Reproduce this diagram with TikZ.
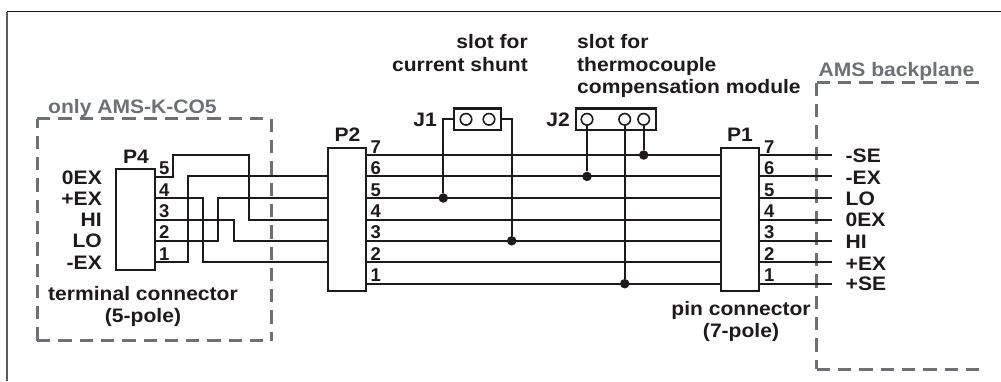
\documentclass[tikz,border=0pt]{standalone}
\usepackage{fontspec}
\setmainfont{Liberation Sans}[FakeStretch=1.08]
\newfontfamily\pinfont{Liberation Sans}
\usetikzlibrary{arrows}
\definecolor{dashgray}{HTML}{6D7175}
\definecolor{wireblack}{HTML}{1E1A1A}
\tikzset{
  wire/.style={draw=wireblack,line width=2pt},
  connbox/.style={draw=wireblack,line width=2.3pt,fill=white,inner sep=0pt},
  border/.style={dashgray,line width=3pt,dash pattern=on 13.3pt off 8pt},
  label/.style={font=\fontsize{19.5}{21.5}\selectfont\bfseries,text=wireblack,inner sep=0pt},
  graylabel/.style={font=\fontsize{19.5}{21.5}\selectfont\bfseries,text=dashgray,inner sep=0pt},
  pinno/.style={font=\pinfont\fontsize{18.5}{18.5}\selectfont\bfseries,text=wireblack,inner sep=0pt},
  solder/.style={circle,fill=wireblack,inner sep=0pt,minimum size=9.5pt},
  hole/.style={circle,draw=wireblack,line width=1.6pt,fill=white,inner sep=0pt,minimum size=11.5pt}
}
\begin{document}
\begin{tikzpicture}[x=1pt,y=-1pt]
   \useasboundingbox (0,0) rectangle (1001,381);
   % outer frame
   \coordinate (FL) at (6.5,381);
   \coordinate (FC) at (6.5,11.5);
   \coordinate (FR) at (1001,11.5);
   \draw [dashgray!80!black, line width=2pt] (FL) -- (FC);
   \draw [wireblack, line width=1.8pt] (FC) -- (FR);
   % dashed regions
   \coordinate (OA) at (37,118.7);
   \coordinate (OB) at (271,118.7);
   \coordinate (OC) at (271,340.7);
   \coordinate (OD) at (37,340.7);
   \draw [border] (OA) -- (OB);
   \draw [border] (OB) -- (OC);
   \draw [border] (OD) -- (OC);
   \draw [border] (OD) -- (OA);
   \coordinate (BA) at (816.7,82.7);
   \coordinate (BB) at (983,82.7);
   \coordinate (BC) at (816.7,369);
   \coordinate (BD) at (983,369);
   \draw [border] (BA) -- (BB);
   \draw [border] (BA) -- (BC);
   \draw [border] (BC) -- (BD);
   % pin positions
   \foreach \n/\y in {7/155,6/176.4,5/198,4/219.5,3/240.8,2/262.3,1/283.7} {
      \coordinate (P2L\n) at (328,\y);
      \coordinate (P2R\n) at (366,\y);
      \coordinate (P1L\n) at (721,\y);
      \coordinate (P1R\n) at (759,\y);
      \coordinate (OUT\n) at (831.7,\y);
      \node [pinno, anchor=base west] (P2N\n) at (370.5,\y-2) {\n};
      \node [pinno, anchor=base west] (P1N\n) at (764,\y-2) {\n};
      \draw [wire] (P2R\n) -- (P1L\n);
      \draw [wire] (P1R\n) -- (OUT\n);
   }
   \foreach \n/\y in {5/176.8,4/198,3/219.5,2/240.8,1/262.3} {
      \coordinate (P4R\n) at (155,\y);
      \node [pinno, anchor=base west] (P4N\n) at (159,\y-2) {\n};
   }
   % wires from P4 to P2
   \coordinate (W5a) at (172.7,154.7);
   \coordinate (W5b) at (248.7,154.7);
   \draw [wire] (P4R5) -| (W5a) -- (W5b) |- (P2L4);
   \coordinate (W1) at (188.3,262.3);
   \draw [wire] (P4R1) -- (W1) |- (P2L6);
   \coordinate (W4) at (203.3,198);
   \draw [wire] (P4R4) -- (W4) |- (P2L2);
   \coordinate (W2) at (218.3,240.8);
   \draw [wire] (P4R2) -- (W2) |- (P2L5);
   \coordinate (W3) at (233.7,219.5);
   \draw [wire] (P4R3) -- (W3) |- (P2L3);
   \node [connbox, minimum width=39pt, minimum height=101pt] (P4) at (135.5,219.5) {};
   \node [connbox, minimum width=38pt, minimum height=143.5pt] (P2) at (347,219.5) {};
   \node [connbox, minimum width=38pt, minimum height=143.5pt] (P1) at (740,219.5) {};
   \node [label, anchor=base] (P4T) at (136,163.5) {P4};
   \node [label, anchor=base] (P2T) at (347.5,141.5) {P2};
   \node [label, anchor=base] (P1T) at (740,141.5) {P1};
   % slots
   \node [connbox, minimum width=46.4pt, minimum height=21.7pt] (J1) at (477.5,119.2) {};
   \node [hole] (J1A) at (466,119.3) {};
   \node [hole] (J1B) at (489,119.3) {};
   \node [connbox, minimum width=80pt, minimum height=21.7pt] (J2) at (615.7,119.2) {};
   \node [hole] (J2A) at (587,119.3) {};
   \node [hole] (J2B) at (624.7,119.3) {};
   \node [hole] (J2C) at (643.7,119.3) {};
   \node [solder] (D1) at (443.3,198) {};
   \node [solder] (D2) at (511.7,240.8) {};
   \node [solder] (D3) at (587,176.4) {};
   \node [solder] (D4) at (624.7,283.7) {};
   \node [solder] (D5) at (643.7,155) {};
   \draw [wire] (J1.west) -| (D1);
   \draw [wire] (J1.east) -| (D2);
   \draw [wire] (J2A) -- (D3);
   \draw [wire] (J2B) -- (D4);
   \draw [wire] (J2C) -- (D5);
   \node [label, anchor=base east] (J1T) at (437,126) {J1};
   \node [label, anchor=base east] (J2T) at (570,126) {J2};
   % texts
   \node [graylabel, anchor=base west] (OT) at (48,113) {only AMS-K-CO5};
   \node [graylabel, anchor=base west] (BT) at (818.5,76.7) {AMS backplane};
   \node [label, anchor=base east] (T1) at (528,48) {slot for};
   \node [label, anchor=base east] (T2) at (528,71) {current shunt};
   \node [label, anchor=base west] (T3) at (577,48) {slot for};
   \node [label, anchor=base west] (T4) at (577,71) {thermocouple};
   \node [label, anchor=base west] (T5) at (577,93) {compensation module};
   \node [label, anchor=base] (T6) at (143,300) {terminal connector};
   \node [label, anchor=base] (T7) at (143,322) {(5-pole)};
   \node [label, anchor=base] (T8) at (741,315) {pin connector};
   \node [label, anchor=base] (T9) at (741,337) {(7-pole)};
   \foreach \t/\y/\s in {0EX/184.5/a,+EX/205.5/b,HI/226.7/c,LO/247.5/d,-EX/269.3/e} {
      \node [label, anchor=base east] (IN\s) at (102,\y) {\t};
   }
   \foreach \t/\y/\s in {-SE/162.7/a,-EX/184/b,LO/205.7/c,0EX/226.7/d,HI/248/e,+EX/270/f,+SE/290.7/g} {
      \node [label, anchor=base west] (EX\s) at (845.5,\y) {\t};
   }
  \end{tikzpicture}
\end{document}
